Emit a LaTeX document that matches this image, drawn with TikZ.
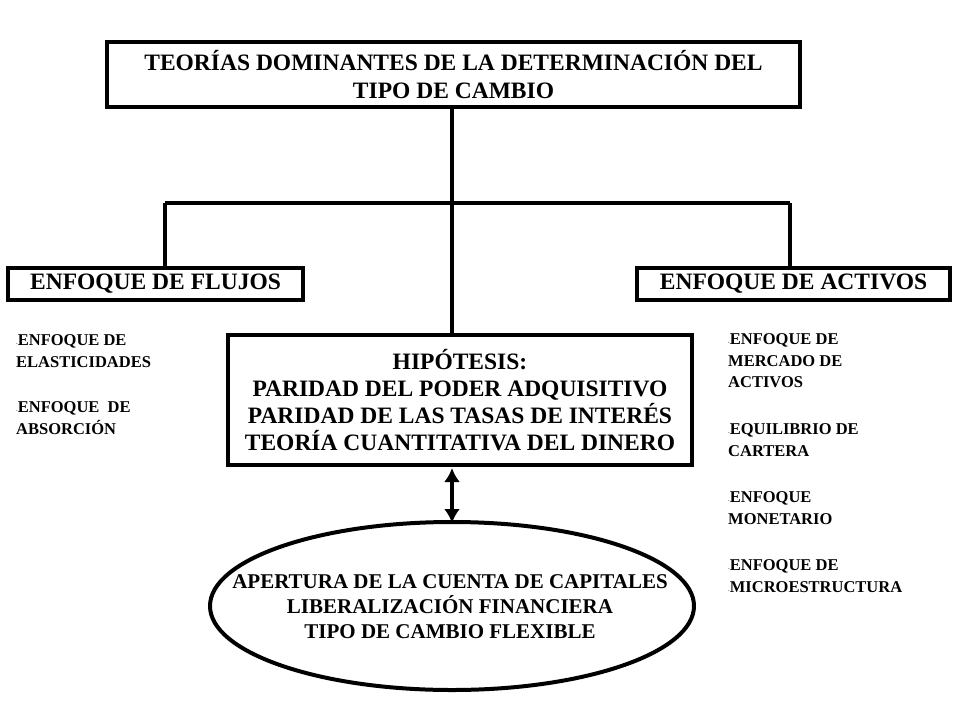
\documentclass[tikz,border=0pt]{standalone}
\usepackage{fontspec}
\setmainfont{Liberation Serif}
\usetikzlibrary{shapes.geometric,arrows.meta}
\begin{document}
\begin{tikzpicture}[x=1pt,y=-1pt,
  bx/.style={draw,line width=4pt,inner sep=0pt},
  ln/.style={line width=4pt},
  lt/.style={anchor=west,font=\bfseries\fontsize{16.5}{21.5}\selectfont,inner sep=0pt,align=left}]
\useasboundingbox (0,0) rectangle (960,720);
\node[bx,minimum width=693,minimum height=65,align=center,font=\bfseries\fontsize{23.5}{28}\selectfont] (top) at (453.5,74.5) {TEORÍAS DOMINANTES DE LA DETERMINACIÓN DEL\\TIPO DE CAMBIO};
\node[bx,minimum width=295,minimum height=32,font=\bfseries\fontsize{23.5}{26}\selectfont] (fl) at (155.5,284) {ENFOQUE DE FLUJOS};
\node[bx,minimum width=313,minimum height=32,font=\bfseries\fontsize{23.5}{26}\selectfont] (ac) at (793.5,284) {ENFOQUE DE ACTIVOS};
\node[bx,minimum width=464,minimum height=130,align=center,font=\bfseries\fontsize{23.5}{27}\selectfont] (hy) at (460,400) {HIPÓTESIS:\\PARIDAD DEL PODER ADQUISITIVO\\PARIDAD DE LAS TASAS DE INTERÉS\\TEORÍA CUANTITATIVA DEL DINERO};
\node[draw,ellipse,line width=4pt,minimum width=484,minimum height=168,inner sep=0pt] (el) at (452,606) {};
\node[align=center,font=\bfseries\fontsize{21}{25}\selectfont] (elt) at (450,607) {APERTURA DE LA CUENTA DE CAPITALES\\LIBERALIZACIÓN FINANCIERA\\TIPO DE CAMBIO FLEXIBLE};
\coordinate (j) at (452,203);
\coordinate (jl) at (165,203);
\coordinate (jr) at (790,203);
\draw[ln] (top.south -| j) -- (hy.north -| j);
\draw[ln] (jl) -- (jr);
\draw[ln] (jl) -- (fl.north -| jl);
\draw[ln] (jr) -- (ac.north -| jr);
\coordinate (a1) at (452,468);
\coordinate (a2) at (452,523);
\draw[ln,{Latex[length=14pt,width=16pt]}-{Latex[length=14pt,width=16pt]}] (a1) -- (a2);
\node[lt] (l1) at (16,351) {{\tiny·}ENFOQUE DE\\ELASTICIDADES};
\node[lt] (l2) at (16,418) {{\tiny·}ENFOQUE \ DE\\ABSORCIÓN};
\node[lt] (r1) at (728,361) {{\tiny·}ENFOQUE DE\\MERCADO DE\\ACTIVOS};
\node[lt] (r2) at (728,440) {{\tiny·}EQUILIBRIO DE\\CARTERA};
\node[lt] (r3) at (728,508) {{\tiny·}ENFOQUE\\MONETARIO};
\node[lt] (r4) at (728,576) {{\tiny·}ENFOQUE DE\\{\tiny·}MICROESTRUCTURA};
\end{tikzpicture}
\end{document}
